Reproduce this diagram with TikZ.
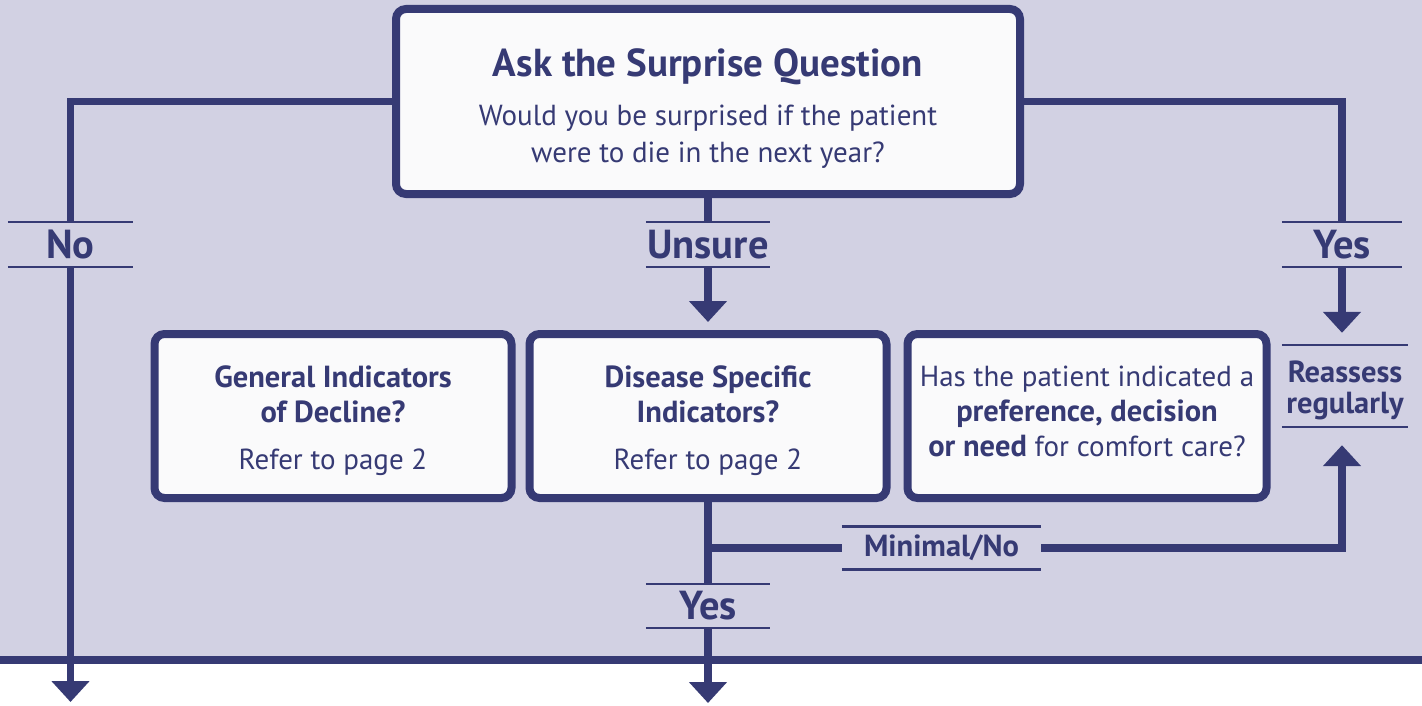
\documentclass[tikz,border=0pt]{standalone}
\usepackage{fontspec}
\setmainfont{PT Sans}
\usetikzlibrary{arrows.meta, positioning}
\definecolor{navy}{HTML}{363A74}
\definecolor{lilac}{HTML}{D2D1E3}
\definecolor{paper}{HTML}{FAFAFB}
\newcommand{\bodysize}{\fontsize{29}{35}\selectfont}
\newcommand{\strongsize}{\fontsize{30.5}{34}\selectfont\bfseries}
\newcommand{\headsize}{\fontsize{39}{45}\selectfont}
\newcommand{\tagsize}{\fontsize{40.5}{45}\selectfont}
\tikzstyle{box} = [rectangle, rounded corners=10pt, line width=8pt, draw=navy, fill=paper, text=navy, align=center, font=\bodysize]
\tikzstyle{tag} = [rectangle, inner sep=0pt, text=navy, align=center, font=\tagsize\bfseries]
\tikzstyle{rule} = [line width=2.5pt, draw=navy]
\tikzstyle{link} = [line width=7.5pt, draw=navy]
\tikzstyle{arrow} = [link, -{Triangle[width=37pt,length=21pt]}]

\begin{document}
\begin{tikzpicture}[x=1pt, y=-1pt]
	\useasboundingbox (0,0) rectangle (1422,706);
	\fill[lilac] (0,0) rectangle (1422,660);
	\draw[link] (0,660) -- (1422,660);
	\node (ask) [box, minimum width=624, minimum height=185] at (708,101.5) {\rule{0pt}{42pt}{\headsize\bfseries Ask the Surprise Question}\\[14pt] Would you be surprised if the patient\\[2pt] were to die in the next year?};
	\node (disease) [box, minimum width=357, minimum height=164] at (708,416) {\rule{0pt}{32pt}{\strongsize Disease Specific}\\ {\strongsize Indicators?}\\[12pt] Refer to page 2};
	\node (general) [box, minimum width=357, minimum height=164, left=10pt of disease] {\rule{0pt}{32pt}{\strongsize General Indicators}\\ {\strongsize of Decline?}\\[12pt] Refer to page 2};
	\node (pref) [box, minimum width=359, minimum height=164, right=13pt of disease] {Has the patient indicated a\\ {\strongsize preference, decision}\\ {\strongsize or need} for comfort care?\rule[-10pt]{0pt}{10pt}};
	\node (no) [tag, minimum width=125, minimum height=45] at (70.5,244.5) {No};
	\node (unsure) [tag, minimum width=124, minimum height=45] at (708,244.5) {Unsure};
	\node (yes) [tag, minimum width=120, minimum height=45] at (1342,244.5) {Yes};
	\node (reassess) [tag, font=\strongsize, minimum width=126, minimum height=82] at (1345,386) {\rule{0pt}{30pt}Reassess\\[-3pt] regularly};
	\node (minimal) [tag, font=\strongsize, minimum width=199, minimum height=43] at (941.5,548) {Minimal/No};
	\node (yesdown) [tag, minimum width=124, minimum height=44] at (708,606) {Yes};
	\coordinate (noend) at (70.5,702);
	\coordinate (yesend) at (708,703);
	% rules above and below the answers
	\draw[rule] (no.north west) -- (no.north east) (no.south west) -- (no.south east);
	\draw[rule] (unsure.north west) -- (unsure.north east) (unsure.south west) -- (unsure.south east);
	\draw[rule] (yes.north west) -- (yes.north east) (yes.south west) -- (yes.south east);
	\draw[rule] (reassess.north west) -- (reassess.north east) (reassess.south west) -- (reassess.south east);
	\draw[rule] (minimal.north west) -- (minimal.north east) (minimal.south west) -- (minimal.south east);
	\draw[rule] (yesdown.north west) -- (yesdown.north east) (yesdown.south west) -- (yesdown.south east);
	% connectors
	\draw[link] (ask.west) -| (no.north);
	\draw[arrow] (no.south) -- (noend);
	\draw[link] (ask.east) -| (yes.north);
	\draw[arrow, shorten >=12pt] (yes.south) -- (yes.south |- reassess.north);
	\draw[link] (ask.south) -- (unsure.north);
	\draw[arrow, shorten >=8pt] (unsure.south) -- (disease.north);
	\draw[link] (disease.south) -- (yesdown.north);
	\draw[arrow] (yesdown.south) -- (yesend);
	\draw[link] (disease.south |- minimal.west) -- (minimal.west);
	\draw[arrow, shorten >=18pt] (minimal.east) -| (yes.south |- reassess.south);
\end{tikzpicture}
\end{document}
